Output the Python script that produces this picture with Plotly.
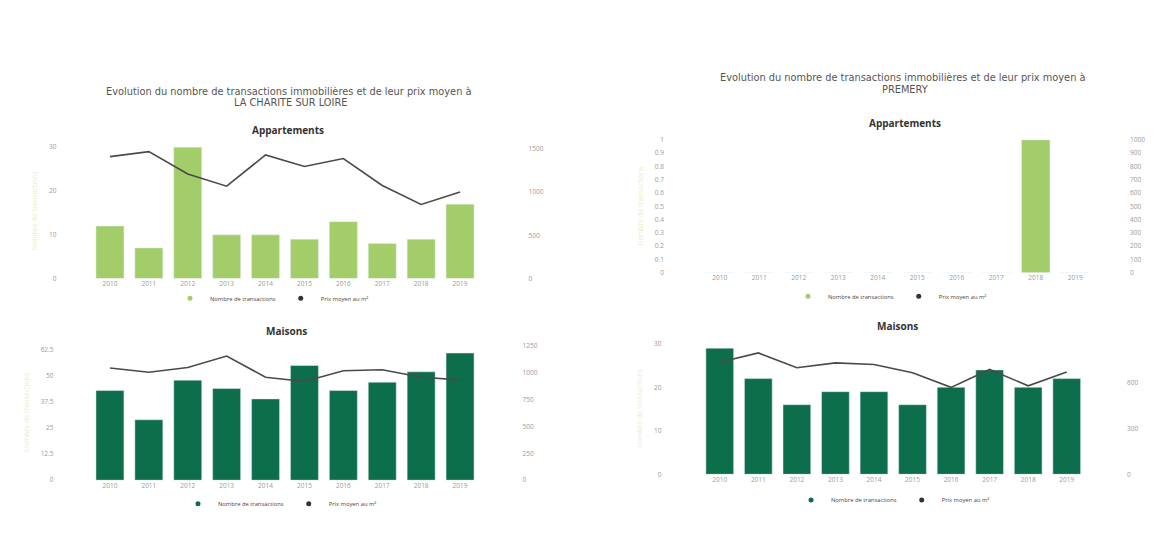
import plotly.graph_objects as go

# the page body has an 8px margin: the figure is drawn from (8, 8)
OFF = 8
W, H = 1154 - OFF, 557 - OFF

years = ["2010", "2011", "2012", "2013", "2014", "2015", "2016", "2017", "2018", "2019"]

# La Charité-sur-Loire
charite_appt_nb = [12, 7, 30, 10, 10, 9, 13, 8, 9, 17]
charite_appt_prix = [1411, 1468, 1209, 1069, 1430, 1297, 1388, 1077, 857, 1001]
charite_mais_nb = [43, 29, 48, 44, 39, 55, 43, 47, 52, 61]
charite_mais_prix = [1041, 1002, 1047, 1153, 956, 916, 1016, 1026, 956, 931]

# Prémery
premery_appt_nb = [0, 0, 0, 0, 0, 0, 0, 0, 1, 0]
premery_appt_prix = [None, None, None, None, None, None, None, None, None, None]
premery_mais_nb = [29, 22, 16, 19, 19, 16, 20, 24, 20, 22]
premery_mais_prix = [732, 793, 696, 728, 717, 664, 568, 685, 578, 668]

LIGHT = "#a2cd69"
DARK = "#0d6e4b"
LINE = "#4a4a4a"
TICK = dict(size=6.5, color="#9a9a9a", family="Open Sans")


def px_x(a, b):
    return [(a - OFF) / W, (b - OFF) / W]


def px_y(top, bottom):
    return [1 - (bottom - OFF) / H, 1 - (top - OFF) / H]


fig = go.Figure()

panels = [
    ("x", "y", "y2", "legend", charite_appt_nb, charite_appt_prix, LIGHT),
    ("x2", "y3", "y4", "legend2", charite_mais_nb, charite_mais_prix, DARK),
    ("x3", "y5", "y6", "legend3", premery_appt_nb, premery_appt_prix, LIGHT),
    ("x4", "y7", "y8", "legend4", premery_mais_nb, premery_mais_prix, DARK),
]

for xa, yl, yr, lg, nb, prix, col in panels:
    fig.add_trace(go.Bar(x=years, y=nb, xaxis=xa, yaxis=yl, marker_color=col,
                         showlegend=False, name="Nombre de transactions"))
    fig.add_trace(go.Scatter(x=years, y=prix, xaxis=xa, yaxis=yr, mode="lines",
                             line=dict(color=LINE, width=1.6), showlegend=False,
                             name="Prix moyen au m²"))
    # legend entries drawn as dots
    fig.add_trace(go.Scatter(x=[None], y=[None], xaxis=xa, yaxis=yl, mode="markers",
                             marker=dict(color=col, size=5), name="Nombre de transactions",
                             legend=lg))
    fig.add_trace(go.Scatter(x=[None], y=[None], xaxis=xa, yaxis=yl, mode="markers",
                             marker=dict(color="#333333", size=5), name="Prix moyen au m²",
                             legend=lg))


def xaxis(dom, anchor):
    return dict(domain=px_x(*dom), anchor=anchor, type="category", showgrid=False,
                zeroline=False, showline=False, ticks="", tickfont=TICK, fixedrange=True)


def yleft(dom, anchor, rng, dtick, standoff):
    return dict(domain=px_y(*dom), anchor=anchor, range=rng, dtick=dtick, showgrid=False,
                zeroline=False, showline=False, tickfont=TICK, ticklabelstandoff=standoff,
                title=dict(text="Nombre de transactions", font=dict(size=7, color="#e6efc4"),
                           standoff=10))


def yright(overlay, anchor, rng, dtick, standoff):
    return dict(overlaying=overlay, anchor=anchor, side="right", range=rng, dtick=dtick,
                showgrid=False, zeroline=False, showline=False, tickfont=TICK,
                ticklabelstandoff=standoff)


def legend(cx, cy):
    return dict(orientation="h", x=(cx - OFF) / W, y=1 - (cy - OFF) / H, xanchor="center",
                yanchor="middle", font=dict(size=5.8, color="#444444", family="Open Sans"),
                itemwidth=30, bgcolor="rgba(0,0,0,0)", tracegroupgap=0)


fig.update_layout(
    width=W, height=H, margin=dict(l=0, r=0, t=0, b=0),
    paper_bgcolor="white", plot_bgcolor="white", bargap=0.28,
    font=dict(family="Open Sans", color="#444444"),
    xaxis=xaxis((90.5, 479.5), "y"),
    yaxis=yleft((140, 278), "x", [0, 31], 10, 33),
    yaxis2=yright("y", "x", [0, 1570], 500, 48),
    xaxis2=xaxis((90.5, 479.5), "y3"),
    yaxis3=yleft((345, 483), "x2", [0, 65.1], 12.5, 36),
    yaxis4=yright("y3", "x2", [0, 1260], 250, 42),
    xaxis3=xaxis((700, 1095), "y5"),
    yaxis5=yleft((137, 272), "x3", [0, 1], 0.1, 35),
    yaxis6=yright("y5", "x3", [0, 1000], 100, 34),
    xaxis4=xaxis((700.5, 1086), "y7"),
    yaxis7=yleft((343, 477), "x4", [0, 30.3], 10, 38),
    yaxis8=yright("y7", "x4", [0, 861], 300, 40),
    legend=legend(272, 298),
    legend2=legend(280, 507),
    legend3=legend(890, 296),
    legend4=legend(893, 503),
)

annotations = [
    (288, 88, "Evolution du nombre de transactions immobilières et de leur prix moyen à", 9.8, "#555555"),
    (290, 99, "LA CHARITE SUR LOIRE", 9.8, "#555555"),
    (902, 74, "Evolution du nombre de transactions immobilières et de leur prix moyen à", 9.8, "#555555"),
    (905, 86, "PREMERY", 9.8, "#555555"),
    (288, 127, "<b>Appartements</b>", 10, "#333333"),
    (286, 331, "<b>Maisons</b>", 10, "#333333"),
    (905, 120, "<b>Appartements</b>", 10, "#333333"),
    (897, 326, "<b>Maisons</b>", 10, "#333333"),
]
for ax, ay, text, size, color in annotations:
    fig.add_annotation(x=(ax - OFF) / W, y=1 - (ay - OFF) / H, xref="paper", yref="paper",
                       text=text, showarrow=False, xanchor="center", yanchor="middle",
                       font=dict(size=size, color=color,
                                 family="DejaVu Sans" if size < 10 else "Open Sans"))

fig.write_html("out.html")
